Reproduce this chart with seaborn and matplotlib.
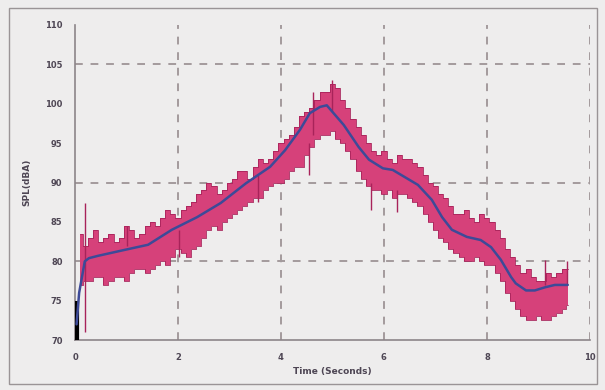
import matplotlib
matplotlib.use("Agg")
import matplotlib.pyplot as plt
import matplotlib.patches as patches
import seaborn as sns
import pandas as pd

sns.set_style("white")
plt.rcParams["font.family"] = ["DejaVu Sans"]

# band envelope (pink), every 0.1 s
band_time = [0.1, 0.2, 0.3, 0.4, 0.5, 0.6, 0.7, 0.8, 0.9, 1.0, 1.1, 1.2, 1.3, 1.4, 1.5,
             1.6, 1.7, 1.8, 1.9, 2.0, 2.1, 2.2, 2.3, 2.4, 2.5, 2.6, 2.7, 2.8, 2.9, 3.0,
             3.1, 3.2, 3.3, 3.4, 3.5, 3.6, 3.7, 3.8, 3.9, 4.0, 4.1, 4.2, 4.3, 4.4, 4.5,
             4.6, 4.7, 4.8, 4.9, 5.0, 5.1, 5.2, 5.3, 5.4, 5.5, 5.6, 5.7, 5.8, 5.9, 6.0,
             6.1, 6.2, 6.3, 6.4, 6.5, 6.6, 6.7, 6.8, 6.9, 7.0, 7.1, 7.2, 7.3, 7.4, 7.5,
             7.6, 7.7, 7.8, 7.9, 8.0, 8.1, 8.2, 8.3, 8.4, 8.5, 8.6, 8.7, 8.8, 8.9, 9.0,
             9.1, 9.2, 9.3, 9.4, 9.5, 9.57]
band_upper = [83.5, 82.0, 83.0, 84.0, 82.5, 83.0, 83.5, 82.5, 83.0, 84.5, 84.0, 83.0,
              83.5, 84.5, 85.0, 84.5, 85.5, 86.5, 86.0, 85.5, 86.5, 87.0, 87.5, 88.5,
              89.0, 90.0, 89.5, 88.5, 89.0, 90.0, 90.5, 91.5, 91.5, 90.5, 92.0, 93.0,
              92.5, 93.0, 94.0, 95.0, 95.5, 96.0, 97.0, 98.5, 99.0, 99.5, 100.5, 101.5,
              101.5, 102.5, 102.0, 100.5, 99.5, 98.0, 97.0, 96.0, 95.0, 94.0, 93.5, 94.0,
              93.0, 92.5, 93.5, 93.0, 93.0, 92.5, 92.0, 91.0, 90.0, 89.5, 88.5, 88.0,
              87.0, 86.0, 86.0, 86.5, 85.5, 85.0, 86.0, 85.5, 85.0, 84.0, 83.0, 81.5,
              80.5, 79.5, 78.5, 79.0, 78.0, 77.5, 77.5, 78.5, 78.0, 78.5, 79.0, 79.0]
band_lower = [77.0, 77.5, 77.5, 78.0, 78.0, 77.0, 77.5, 78.0, 78.0, 77.5, 78.5, 79.0,
              79.0, 78.5, 79.0, 79.5, 80.0, 79.5, 80.5, 81.5, 81.0, 80.5, 81.5, 82.0,
              83.0, 84.0, 84.5, 84.0, 85.0, 85.5, 86.0, 86.5, 87.0, 87.5, 88.0, 88.0,
              89.0, 89.5, 90.0, 90.0, 90.5, 91.5, 92.0, 92.0, 93.5, 94.5, 95.5, 96.0,
              96.0, 96.5, 95.5, 95.0, 94.0, 93.0, 91.5, 90.5, 89.5, 89.0, 89.0, 88.5,
              89.0, 88.0, 88.5, 88.5, 88.0, 87.5, 87.0, 86.0, 85.0, 84.0, 83.0, 82.5,
              81.5, 81.0, 80.5, 80.0, 80.0, 80.5, 80.0, 79.5, 79.5, 78.5, 77.5, 76.0,
              75.0, 74.0, 73.0, 72.5, 72.5, 73.0, 72.5, 72.5, 73.0, 73.5, 74.0, 74.5]

# smoothed level (blue line)
mean_time = [0.03, 0.08, 0.19, 0.27, 0.45, 0.93, 1.42, 1.88, 2.37, 2.83, 3.32, 3.79,
             4.08, 4.37, 4.56, 4.76, 4.89, 5.22, 5.51, 5.71, 5.98, 6.17, 6.66, 6.93,
             7.13, 7.32, 7.61, 7.88, 8.08, 8.27, 8.47, 8.56, 8.76, 8.93, 9.13, 9.32, 9.57]
mean_level = [72.0, 76.0, 80.0, 80.4, 80.7, 81.4, 82.1, 84.0, 85.6, 87.4, 89.9, 92.0,
              94.1, 96.7, 98.8, 99.6, 99.8, 97.3, 94.5, 92.9, 91.8, 91.6, 89.7, 87.8,
              85.6, 84.0, 83.1, 82.7, 81.8, 80.2, 78.0, 77.2, 76.3, 76.3, 76.7, 77.0, 77.0]

# single spikes sticking out of the band
spike_time = [0.19, 1.0, 2.02, 3.55, 4.55, 4.62, 5.0, 5.75, 6.25, 9.13, 9.55]
spike_low = [71.0, 82.0, 80.5, 87.5, 91.0, 96.0, 99.0, 86.5, 86.3, 77.0, 77.0]
spike_high = [87.4, 84.5, 84.0, 91.0, 95.0, 101.5, 103.0, 90.0, 89.0, 80.2, 80.0]

bg = "#eeeded"
pink = "#d6417a"
dark_pink = "#a8235a"
blue = "#3d4a98"
grid_col = "#a39a9c"
text_col = "#4e4654"

fig = plt.figure(figsize=(6.05, 3.9), dpi=100, facecolor=bg)
ax = fig.add_axes([0.124, 0.128, 0.851, 0.808])
ax.set_facecolor(bg)

# outer frame of the chart
fig.patches.append(patches.Rectangle((0.015, 0.015), 0.972, 0.965, transform=fig.transFigure,
                                     fill=False, edgecolor="#9a9496", linewidth=1.0))

ax.fill_between(band_time, band_lower, band_upper, step="mid", color=pink, linewidth=0, zorder=2)
ax.step(band_time, band_upper, where="mid", color=dark_pink, linewidth=0.6, zorder=2)
ax.step(band_time, band_lower, where="mid", color=dark_pink, linewidth=0.6, zorder=2)
ax.vlines(spike_time, spike_low, spike_high, color=dark_pink, linewidth=1.0, zorder=2)
ax.vlines([0.03], [70], [75], color="black", linewidth=3, zorder=3)

df = pd.DataFrame({"t": mean_time, "v": mean_level})
sns.lineplot(data=df, x="t", y="v", ax=ax, color=blue, linewidth=1.8, zorder=4)

ax.set_xlim(0, 10)
ax.set_ylim(70, 110)
ax.set_xticks([0, 2, 4, 6, 8, 10])
ax.set_yticks([70, 75, 80, 85, 90, 95, 100, 105, 110])

for x in [2, 4, 6, 8, 10]:
    ax.axvline(x, color=grid_col, linestyle=(0, (4, 4)), linewidth=1.4, zorder=1)
for y in [80, 90, 105]:
    ax.axhline(y, color=grid_col, linestyle=(0, (4, 4)), linewidth=1.4, zorder=1)

for side in ["top", "right"]:
    ax.spines[side].set_visible(False)
for side in ["left", "bottom"]:
    ax.spines[side].set_color("#8c8589")
    ax.spines[side].set_linewidth(1.2)

ax.tick_params(axis="both", direction="out", length=3, width=1, color="#8c8589",
               labelsize=6, labelcolor=text_col, pad=6)
for lab in ax.get_xticklabels() + ax.get_yticklabels():
    lab.set_fontweight("bold")

ax.set_xlabel("Time (Seconds)", fontsize=6.5, fontweight="bold", color=text_col, labelpad=4)
ax.set_ylabel("SPL(dBA)", fontsize=6.5, fontweight="bold", color=text_col, labelpad=10)

fig.savefig("out.png", dpi=100, facecolor=bg)
